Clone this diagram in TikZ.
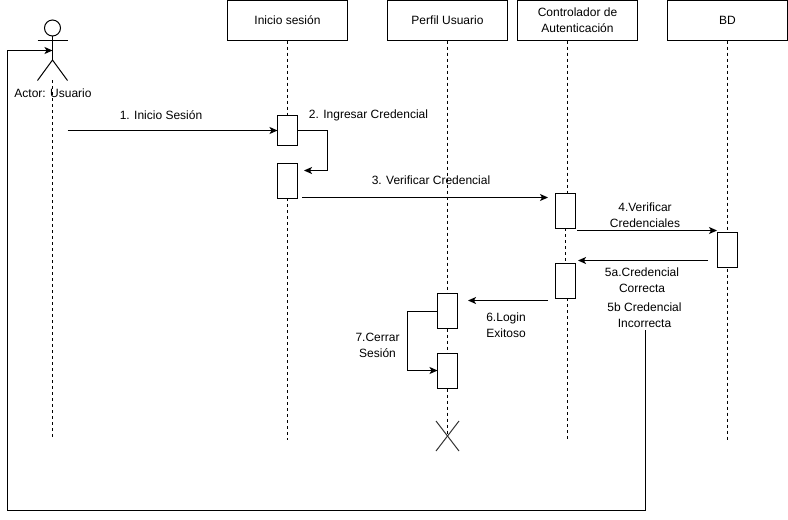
\documentclass[tikz,border=0pt]{standalone}
\usepackage{fontspec}
\setmainfont{Liberation Sans}
\usetikzlibrary{
        arrows.meta,
        backgrounds
    }
\tikzset{>={Stealth[length=6pt,width=5.25pt,inset=1.5pt]},auto}
\tikzset{headbox/.style={draw,rectangle,inner sep=0pt,outer sep=0pt,minimum width=90pt,minimum height=30pt,align=center,font=\fontsize{9}{12}\selectfont}}
\tikzset{actbox/.style={draw,rectangle,fill=white,inner sep=0pt,outer sep=0pt,minimum width=15pt,minimum height=#1}}
\tikzset{msg/.style={inner sep=0pt,align=center,font=\fontsize{9}{12}\selectfont}}
\tikzset{lifeline/.style={dash pattern=on 2.25pt off 2.25pt}}

\begin{document}
\begin{tikzpicture}[x=0.75pt,y=-0.75pt,line width=0.75pt]
                        \useasboundingbox (0,0) rectangle (788,519);
                        % actor
                        \node[draw,circle,inner sep=0pt,outer sep=0pt,minimum size=12pt] (uhead) at (52.5,28) {};
                        \coordinate (uhip) at (52.5,60);
                        \coordinate (uarml) at (37.5,40.5);
                        \coordinate (uarmr) at (67.5,40.5);
                        \coordinate (ulegl) at (37.5,80.5);
                        \coordinate (ulegr) at (67.5,80.5);
                        \coordinate (uhand) at (52.5,50.5);
                        \coordinate (utop) at (52.5,80);
                        \coordinate (uend) at (52.5,438);
                        \node[msg] (uname) at (53,93) {Actor: Usuario};
                        \draw (uhead) -- (uhip);
                        \draw (uarml) -- (uarmr);
                        \draw (ulegl) -- (uhip) -- (ulegr);
                        % heads
                        \node[headbox] (inicio) at (287.5,20.5) {Inicio sesión};
                        \node[headbox] (perfil) at (447.5,20.5) {Perfil Usuario};
                        \node[headbox] (control) at (577.5,20.5) {Controlador de\\Autenticación};
                        \node[headbox] (bd) at (727.5,20.5) {BD};
                        % activations
                        \node[actbox=22.5pt] (a1) at (287.5,130.5) {};
                        \node[actbox=26.25pt] (a2) at (287.5,180.5) {};
                        \node[actbox=26.25pt] (a3) at (565,210.5) {};
                        \node[actbox=26.25pt] (a4) at (727.5,250) {};
                        \node[actbox=26.25pt] (a5) at (565,280.5) {};
                        \node[actbox=26.25pt] (a6) at (447.5,311) {};
                        \node[actbox=26.25pt] (a7) at (447.5,370.5) {};
                        % lifeline ends
                        \coordinate (iend) at (287.5,440);
                        \coordinate (pend) at (447.5,435);
                        \coordinate (ctop) at (567.5,40.5);
                        \coordinate (cupper) at (567.5,193);
                        \coordinate (clower) at (567.5,298);
                        \coordinate (cend) at (567.5,440);
                        \coordinate (btop) at (727.5,40.5);
                        \coordinate (bend) at (727.5,440);
                        \begin{scope}[on background layer]
                            \draw[lifeline] (utop) -- (uend);
                            \draw[lifeline] (inicio.south) -- (a1);
                            \draw[lifeline] (a2) -- (iend);
                            \draw[lifeline] (perfil.south) -- (pend);
                            \draw[lifeline] (ctop) -- (cupper);
                            \draw[lifeline] (a3) -- (a5);
                            \draw[lifeline] (clower) -- (cend);
                            \draw[lifeline] (btop) -- (bend);
                        \end{scope}
                        % message ends
                        \coordinate (m1from) at (67.5,130.5);
                        \coordinate (m2a) at (327.5,130.5);
                        \coordinate (m2b) at (327.5,170.5);
                        \coordinate (m2to) at (304,170.5);
                        \coordinate (m3from) at (302,197.5);
                        \coordinate (m3to) at (548,197.5);
                        \coordinate (m4from) at (577,230.5);
                        \coordinate (m4to) at (717,230.5);
                        \coordinate (m5from) at (708,260.5);
                        \coordinate (m5to) at (578,260.5);
                        \coordinate (m6from) at (548,300.5);
                        \coordinate (m6to) at (468,300.5);
                        \coordinate (m7a) at (407.5,311);
                        \coordinate (m7b) at (407.5,370.5);
                        \coordinate (m8from) at (645,330);
                        \coordinate (m8a) at (645,510.5);
                        \coordinate (m8b) at (7.5,510.5);
                        \coordinate (m8c) at (7.5,50.5);
                        \draw[->] (m1from) -- (a1.west);
                        \draw[->] (a1.east) -- (m2a) -- (m2b) -- (m2to);
                        \draw[->] (m3from) -- (m3to);
                        \draw[->] (m4from) -- (m4to);
                        \draw[->] (m5from) -- (m5to);
                        \draw[->] (m6from) -- (m6to);
                        \draw[->] (a6.west) -- (m7a) -- (m7b) -- (a7.west);
                        \draw[->] (m8from) -- (m8a) -- (m8b) -- (m8c) -- (uhand);
                        % labels
                        \node[msg] (l1) at (161,115) {1. Inicio Sesión};
                        \node[msg] (l2) at (368.5,115) {2. Ingresar Credencial};
                        \node[msg] (l3) at (431,180) {3. Verificar Credencial};
                        \node[msg] (l4) at (645,215) {4.Verificar\\Credenciales};
                        \node[msg] (l5a) at (642,280) {5a.Credencial\\Correcta};
                        \node[msg] (l5b) at (644.5,315) {5b Credencial\\Incorrecta};
                        \node[msg] (l6) at (506,325) {6.Login\\Exitoso};
                        \node[msg] (l7) at (377.5,345) {7.Cerrar\\Sesión};
                        % destroy
                        \coordinate (xa) at (436,421);
                        \coordinate (xb) at (459,451);
                        \coordinate (xc) at (459,421);
                        \coordinate (xd) at (436,451);
                        \draw[black!80] (xa) -- (xb);
                        \draw[black!80] (xc) -- (xd);
                    \end{tikzpicture}
\end{document}
